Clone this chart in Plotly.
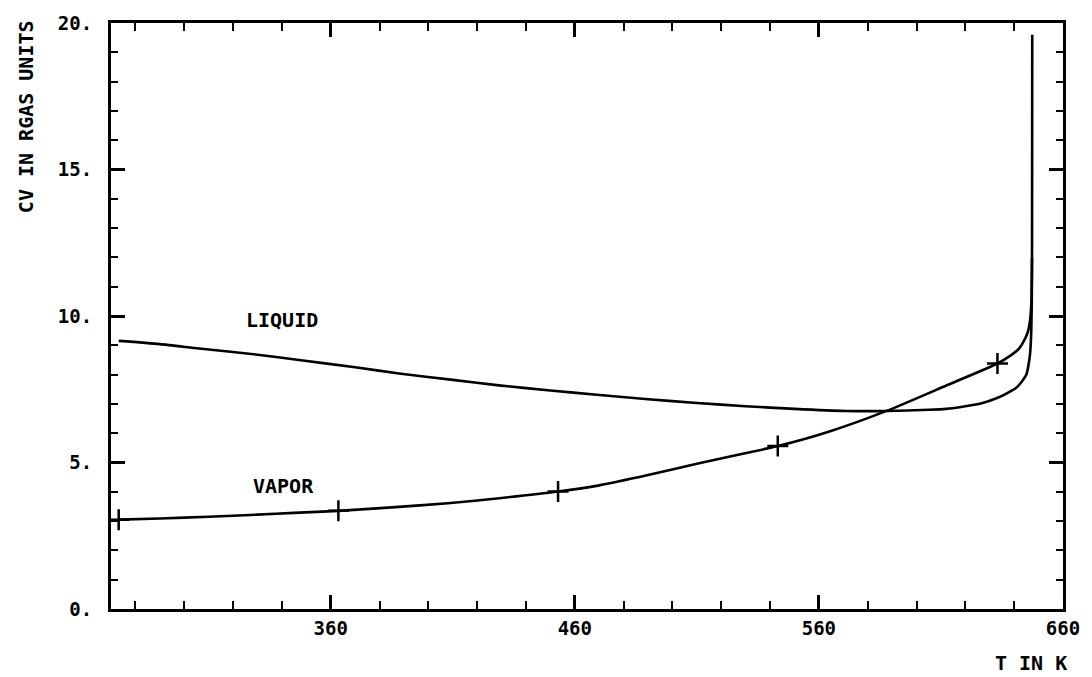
import numpy as np
import plotly.graph_objects as go

# Liquid branch: temperature (K) and Cv (in units of R)
liquid_T = [273.15, 290, 306, 330, 347, 370, 388, 410, 428, 450, 469, 490, 510, 530,
            550, 571, 588, 605, 612, 620, 627, 633, 637, 641, 643, 645, 646.2, 646.6,
            647.0, 647.2, 647.3, 647.35, 647.4]
liquid_cv = [9.15, 9.04, 8.89, 8.68, 8.50, 8.25, 8.04, 7.82, 7.64, 7.46, 7.31, 7.16, 7.03, 6.92,
             6.83, 6.76, 6.76, 6.80, 6.83, 6.92, 7.03, 7.20, 7.36, 7.56, 7.75, 8.00, 8.5, 8.8,
             9.5, 10.5, 12.0, 15.0, 19.6]

# Vapor branch
vapor_T = [273.15, 290, 310, 330, 345, 363.15, 385, 408, 430, 453.15, 470, 490, 510, 525,
           543.15, 564, 588, 612, 633.15, 638, 642, 644, 645.6, 646.6, 647.1, 647.3]
vapor_cv = [3.05, 3.09, 3.15, 3.22, 3.28, 3.35, 3.47, 3.61, 3.79, 4.01, 4.22, 4.57, 4.96, 5.23,
            5.56, 6.05, 6.77, 7.62, 8.38, 8.62, 8.89, 9.15, 9.46, 9.91, 10.6, 12.0]

# Temperatures flagged with a cross on the vapor branch
vapor_mark_T = [273.15, 363.15, 453.15, 543.15, 633.15]

x_tickvals = [360, 460, 560, 660]
x_ticktext = ["360", "460", "560", "660"]
y_tickvals = [0, 5, 10, 15, 20]
y_ticktext = ["0.", "5.", "10.", "15.", "20."]

FONT = "DejaVu Sans Mono"
INK = "black"

fig = go.Figure()
fig.add_trace(go.Scatter(x=liquid_T, y=liquid_cv, mode="lines", line_shape="spline",
                         line=dict(color=INK, width=2.6, smoothing=0.6), showlegend=False))
fig.add_trace(go.Scatter(x=vapor_T, y=vapor_cv, mode="lines", line_shape="spline",
                         line=dict(color=INK, width=2.6, smoothing=0.6), showlegend=False))
fig.add_trace(go.Scatter(x=vapor_mark_T, y=np.interp(vapor_mark_T, vapor_T, vapor_cv),
                         mode="markers",
                         marker=dict(symbol="cross-thin", size=15,
                                     line=dict(color=INK, width=2.5)),
                         showlegend=False))

tick_font = dict(family=FONT, size=19, color=INK, weight="bold")

fig.update_xaxes(range=[270, 660], showline=True, linecolor=INK, linewidth=3,
                 mirror="ticks", showgrid=False, zeroline=False,
                 ticks="inside", ticklen=14, tickwidth=2.5, tickcolor=INK,
                 tickvals=x_tickvals, ticktext=x_ticktext,
                 tickfont=tick_font, ticklabelstandoff=0,
                 minor=dict(ticks="inside", tick0=260, dtick=20, ticklen=8,
                            tickwidth=2, tickcolor=INK))
fig.update_yaxes(range=[0, 20], showline=True, linecolor=INK, linewidth=3,
                 mirror="ticks", showgrid=False, zeroline=False,
                 ticks="inside", ticklen=14, tickwidth=2.5, tickcolor=INK,
                 tickvals=y_tickvals, ticktext=y_ticktext,
                 tickfont=tick_font, ticklabelstandoff=12,
                 minor=dict(ticks="inside", tick0=0, dtick=1, ticklen=7,
                            tickwidth=2, tickcolor=INK))

label_font = dict(family=FONT, size=20, color=INK, weight="bold")
annotations = [
    dict(text="LIQUID", x=340.2, y=9.85, xref="x", yref="y", showarrow=False, font=label_font),
    dict(text="VAPOR", x=340.6, y=4.2, xref="x", yref="y", showarrow=False, font=label_font),
    dict(text="T IN K", x=1.006, y=-0.093, xref="paper", yref="paper",
         xanchor="right", yanchor="middle", showarrow=False, font=label_font),
]

fig.update_layout(
    width=1092, height=677,
    margin=dict(l=111, r=25, t=19, b=68),
    paper_bgcolor="white", plot_bgcolor="white",
    annotations=annotations,
)
# The rotated y-axis caption sits in the left margin, aligned with the top of the frame
fig.add_annotation(text="CV IN RGAS UNITS", textangle=-90, xref="paper", yref="paper",
                   x=-0.09, y=1.008, xanchor="center", yanchor="top", showarrow=False,
                   font=dict(family=FONT, size=20, color=INK, weight="bold"))

fig.write_html("out.html")
